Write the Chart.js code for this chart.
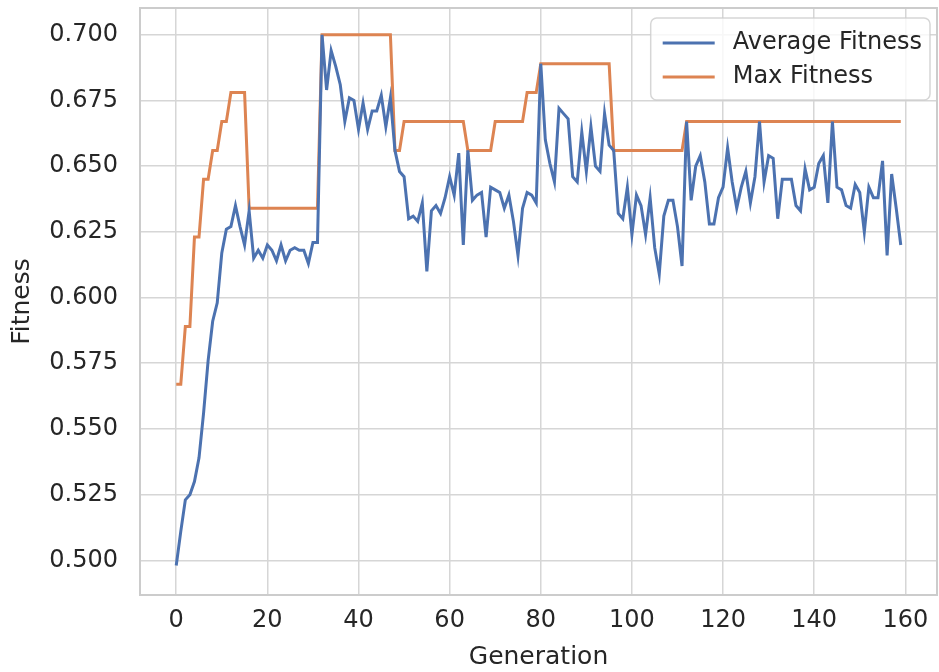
<!DOCTYPE html>
<html>
<head>
<meta charset="utf-8">
<title>Fitness</title>
<script src="https://cdn.jsdelivr.net/npm/chart.js@4.4.1/dist/chart.umd.min.js"></script>
<style>
  html, body { margin: 0; padding: 0; background: #fff; }
</style>
</head>
<body>
<canvas id="fitChart" width="939" height="672"></canvas>
<script>
// data, one row per 16 generations
const avgFitness = [
  0.498, 0.511, 0.523, 0.525, 0.530, 0.539, 0.556, 0.576, 0.591, 0.598, 0.617, 0.626, 0.627, 0.635, 0.627, 0.620,
  0.633, 0.615, 0.618, 0.615, 0.620, 0.618, 0.614, 0.620, 0.614, 0.618, 0.619, 0.618, 0.618, 0.613, 0.621, 0.621,
  0.700, 0.679, 0.694, 0.688, 0.681, 0.667, 0.676, 0.675, 0.664, 0.674, 0.664, 0.671, 0.671, 0.677, 0.665, 0.676,
  0.656, 0.648, 0.646, 0.630, 0.631, 0.629, 0.636, 0.610, 0.633, 0.635, 0.632, 0.638, 0.646, 0.639, 0.655, 0.620,
  0.656, 0.637, 0.639, 0.640, 0.623, 0.642, 0.641, 0.640, 0.634, 0.639, 0.629, 0.616, 0.634, 0.640, 0.639, 0.636,
  0.689, 0.660, 0.651, 0.644, 0.672, 0.670, 0.668, 0.646, 0.644, 0.663, 0.648, 0.665, 0.650, 0.648, 0.670, 0.658,
  0.656, 0.632, 0.630, 0.642, 0.624, 0.639, 0.635, 0.624, 0.638, 0.619, 0.609, 0.631, 0.637, 0.637, 0.627, 0.612,
  0.667, 0.637, 0.650, 0.654, 0.644, 0.628, 0.628, 0.638, 0.642, 0.657, 0.644, 0.634, 0.642, 0.648, 0.636, 0.646,
  0.667, 0.644, 0.654, 0.653, 0.630, 0.645, 0.645, 0.645, 0.635, 0.633, 0.649, 0.641, 0.642, 0.651, 0.654, 0.636,
  0.667, 0.642, 0.641, 0.635, 0.634, 0.643, 0.640, 0.625, 0.642, 0.638, 0.638, 0.652, 0.616, 0.647, 0.634, 0.620
];

const maxFitness = [
  0.567, 0.567, 0.589, 0.589, 0.623, 0.623, 0.645, 0.645, 0.656, 0.656, 0.667, 0.667, 0.678, 0.678, 0.678, 0.678,
  0.634, 0.634, 0.634, 0.634, 0.634, 0.634, 0.634, 0.634, 0.634, 0.634, 0.634, 0.634, 0.634, 0.634, 0.634, 0.634,
  0.700, 0.700, 0.700, 0.700, 0.700, 0.700, 0.700, 0.700, 0.700, 0.700, 0.700, 0.700, 0.700, 0.700, 0.700, 0.700,
  0.656, 0.656, 0.667, 0.667, 0.667, 0.667, 0.667, 0.667, 0.667, 0.667, 0.667, 0.667, 0.667, 0.667, 0.667, 0.667,
  0.656, 0.656, 0.656, 0.656, 0.656, 0.656, 0.667, 0.667, 0.667, 0.667, 0.667, 0.667, 0.667, 0.678, 0.678, 0.678,
  0.689, 0.689, 0.689, 0.689, 0.689, 0.689, 0.689, 0.689, 0.689, 0.689, 0.689, 0.689, 0.689, 0.689, 0.689, 0.689,
  0.656, 0.656, 0.656, 0.656, 0.656, 0.656, 0.656, 0.656, 0.656, 0.656, 0.656, 0.656, 0.656, 0.656, 0.656, 0.656,
  0.667, 0.667, 0.667, 0.667, 0.667, 0.667, 0.667, 0.667, 0.667, 0.667, 0.667, 0.667, 0.667, 0.667, 0.667, 0.667,
  0.667, 0.667, 0.667, 0.667, 0.667, 0.667, 0.667, 0.667, 0.667, 0.667, 0.667, 0.667, 0.667, 0.667, 0.667, 0.667,
  0.667, 0.667, 0.667, 0.667, 0.667, 0.667, 0.667, 0.667, 0.667, 0.667, 0.667, 0.667, 0.667, 0.667, 0.667, 0.667
];

// generation index of each point
const generations = avgFitness.map((v, i) => i);

const xTicks = [0, 20, 40, 60, 80, 100, 120, 140, 160];
const yTicks = [0.500, 0.525, 0.550, 0.575, 0.600, 0.625, 0.650, 0.675, 0.700];

const FONT = '"DejaVu Sans", sans-serif';
const TEXT = '#262626';
const GRID = '#d6d6d6';

// рамка вокруг области графика (как у seaborn whitegrid)
const frame = {
  id: 'frame',
  beforeDatasetsDraw(chart) {
    const { ctx, chartArea: a } = chart;
    ctx.save();
    ctx.strokeStyle = '#cccccc';
    ctx.lineWidth = 2;
    ctx.strokeRect(a.left, a.top, a.width, a.height);
    ctx.restore();
  }
};

// легенда внутри области графика, справа сверху
const legendBox = {
  id: 'legendBox',
  afterDatasetsDraw(chart) {
    const { ctx, chartArea } = chart;
    const sets = chart.data.datasets;
    ctx.save();
    ctx.font = '24px ' + FONT;
    const textW = Math.max(...sets.map(d => ctx.measureText(d.label).width));
    const w = 12 + 52 + 18 + textW + 8;
    const h = 82;
    const x = chartArea.right - 7 - w;
    const y = chartArea.top + 10;
    ctx.beginPath();
    ctx.roundRect(x, y, w, h, 6);
    ctx.fillStyle = 'rgba(255,255,255,0.8)';
    ctx.fill();
    ctx.strokeStyle = 'rgba(204,204,204,0.8)';
    ctx.lineWidth = 1.5;
    ctx.stroke();
    sets.forEach((d, i) => {
      const cy = y + 25 + i * 34;
      ctx.strokeStyle = d.borderColor;
      ctx.lineWidth = 3;
      ctx.beginPath();
      ctx.moveTo(x + 12, cy);
      ctx.lineTo(x + 64, cy);
      ctx.stroke();
      ctx.fillStyle = TEXT;
      ctx.textBaseline = 'middle';
      ctx.fillText(d.label, x + 82, cy);
    });
    ctx.restore();
  }
};

const ctx = document.getElementById('fitChart');
const fitChart = new Chart(ctx, {
  type: 'line',
  data: {
    labels: generations,
    datasets: [{
      label: 'Average Fitness',
      data: avgFitness,
      borderColor: '#4c72b0',
      borderWidth: 3,
      pointRadius: 0,
      tension: 0,
      fill: false
    }, {
      label: 'Max Fitness',
      data: maxFitness,
      borderColor: '#dd8452',
      borderWidth: 3,
      pointRadius: 0,
      tension: 0,
      fill: false
    }]
  },
  options: {
    responsive: false,
    animation: false,
    devicePixelRatio: 1,
    layout: {
      padding: { top: 8, right: 2, left: 0, bottom: 0 }
    },
    plugins: {
      legend: { display: false },
      tooltip: { enabled: false }
    },
    scales: {
      x: {
        type: 'linear',
        min: -7.95,
        max: 166.95,
        afterBuildTicks: s => { s.ticks = xTicks.map(v => ({ value: v })); },
        afterFit: s => { s.height = 77; s.paddingLeft = 0; s.paddingRight = 0; },
        grid: { color: GRID, lineWidth: 1.5, drawTicks: false },
        border: { display: false },
        ticks: {
          font: { family: FONT, size: 24 },
          color: TEXT,
          padding: 11,
          maxRotation: 0,
          autoSkip: false,
          callback: v => String(v)
        },
        title: {
          display: true,
          text: 'Generation',
          font: { family: FONT, size: 25 },
          color: TEXT,
          padding: { top: 0, bottom: 0 }
        }
      },
      y: {
        min: 0.4868,
        max: 0.7102,
        afterBuildTicks: s => { s.ticks = yTicks.map(v => ({ value: v })); },
        afterFit: s => { s.width = 140; s.paddingTop = 0; s.paddingBottom = 0; },
        grid: { color: GRID, lineWidth: 1.5, drawTicks: false },
        border: { display: false },
        ticks: {
          font: { family: FONT, size: 24 },
          color: TEXT,
          padding: 22,
          autoSkip: false,
          callback: v => v.toFixed(3)
        },
        title: {
          display: true,
          text: 'Fitness',
          font: { family: FONT, size: 25 },
          color: TEXT,
          padding: { top: 7, bottom: 0 }
        }
      }
    }
  },
  plugins: [frame, legendBox]
});
</script>
</body>
</html>
